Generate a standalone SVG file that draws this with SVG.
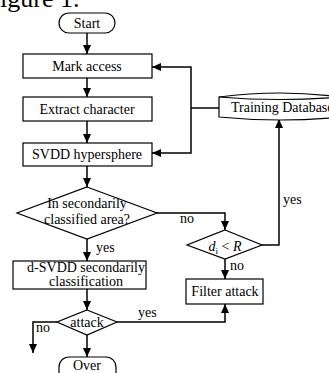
<svg xmlns="http://www.w3.org/2000/svg" width="329" height="373" viewBox="0 0 329 373">
<defs>
<marker id="ah" markerWidth="9" markerHeight="8" refX="9" refY="4" orient="auto" markerUnits="userSpaceOnUse">
<path d="M0,0 L9,4 L0,8 Z" fill="#000"/>
</marker>
<style>
.s{fill:#fff;stroke:#000;stroke-width:1.2}
.t{font-family:"Liberation Serif","Times New Roman",serif;font-size:14px;fill:#000;text-anchor:middle}
.l{font-family:"Liberation Serif","Times New Roman",serif;font-size:14px;fill:#000}
.c{fill:none;stroke:#000;stroke-width:1.5}
</style>
</defs>
<rect width="329" height="373" fill="#fff"/>
<text x="0" y="7" style="font-family:'Liberation Serif',serif;font-size:26px">igure 1.</text>

<g id="connectors" class="c">
<line x1="87" y1="33" x2="87" y2="54" marker-end="url(#ah)"/>
<line x1="87" y1="78" x2="87" y2="97" marker-end="url(#ah)"/>
<line x1="87" y1="121" x2="87" y2="143" marker-end="url(#ah)"/>
<line x1="87" y1="166" x2="87" y2="187" marker-end="url(#ah)"/>
<line x1="87" y1="239" x2="87" y2="261" marker-end="url(#ah)"/>
<line x1="87" y1="289" x2="87" y2="310" marker-end="url(#ah)"/>
<line x1="87" y1="335" x2="87" y2="357" marker-end="url(#ah)"/>
<polyline points="57,322 33,322 33,353" marker-end="url(#ah)"/>
<polyline points="117,322 225,322 225,304" marker-end="url(#ah)"/>
<polyline points="157,213 225,213 225,230" marker-end="url(#ah)"/>
<line x1="225" y1="259" x2="225" y2="279" marker-end="url(#ah)"/>
<polyline points="262,245 279,245 279,119" marker-end="url(#ah)"/>
<line x1="219" y1="108" x2="191" y2="108"/>
<polyline points="191,108 191,67 152,67" marker-end="url(#ah)"/>
<polyline points="191,108 191,153 152,153" marker-end="url(#ah)"/>
</g>
<g id="labels">
<text class="l" x="96" y="252">yes</text>
<text class="l" x="36" y="332">no</text>
<text class="l" x="138" y="317">yes</text>
<text class="l" x="180" y="223">no</text>
<text class="l" x="230" y="270">no</text>
<text class="l" x="283" y="204">yes</text>
</g>

<g id="start">
<rect class="s" x="59" y="13" width="56" height="20" rx="10"/>
<text class="t" x="87" y="28">Start</text>
</g>
<g id="mark">
<rect class="s" x="23" y="54" width="129" height="24"/>
<text class="t" x="87" y="71">Mark access</text>
</g>
<g id="extract">
<rect class="s" x="23" y="97" width="129" height="24"/>
<text class="t" x="87" y="114">Extract character</text>
</g>
<g id="svdd">
<rect class="s" x="23" y="143" width="129" height="23"/>
<text class="t" x="87" y="159">SVDD hypersphere</text>
</g>
<g id="area">
<polygon class="s" points="87,187 157,213 87,239 17,213"/>
<text class="t" x="87" y="208">In secondarily</text>
<text class="t" x="87" y="224">classified area?</text>
</g>
<g id="dsvdd">
<rect class="s" x="13" y="261" width="133" height="28"/>
<text class="t" x="86" y="272" font-size="13.5">d-SVDD secondarily</text>
<text class="t" x="86" y="286" font-size="13.5">classification</text>
</g>
<g id="attack">
<polygon class="s" points="87,310 117,322 87,335 57,322"/>
<text class="t" x="87" y="327">attack</text>
</g>
<g id="over">
<rect class="s" x="59" y="357" width="57" height="28" rx="10"/>
<text class="t" x="87" y="370">Over</text>
</g>
<g id="cond">
<polygon class="s" points="225,230 262,245 225,259 187,245"/>
<text class="t" x="225" y="251"><tspan font-style="italic">d</tspan><tspan font-size="9" dy="3">i</tspan><tspan dy="-3"> &lt; </tspan><tspan font-style="italic">R</tspan></text>
</g>
<g id="filter">
<rect class="s" x="186" y="279" width="77" height="25"/>
<text class="t" x="225" y="296">Filter attack</text>
</g>
<g id="db">
<path class="s" d="M219,97 Q280,89 341,97 L341,117 Q280,123 219,117 Z"/>
<path d="M219,97 Q280,102 341,97" fill="none" stroke="#000" stroke-width="1.2"/>
<text class="l" x="231" y="112">Training Database</text>
</g>
</svg>
